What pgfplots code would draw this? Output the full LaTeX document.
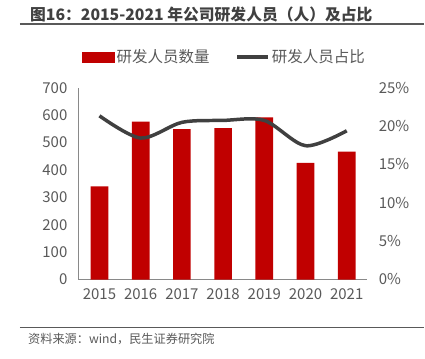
\documentclass[border=0pt]{standalone}
\usepackage{pgfplots}
\pgfplotsset{compat=1.18}
\usepackage{fontspec}
\setmainfont{Noto Sans CJK SC}
\definecolor{barred}{HTML}{C00000}
\definecolor{linegray}{HTML}{404040}
\definecolor{txtgray}{HTML}{595959}
\definecolor{axgray}{HTML}{898989}
\begin{document}
\begin{tikzpicture}
\path (0pt,0pt) rectangle (425pt,359pt);
\draw[txtgray, line width=1.5pt] (20pt,335pt) -- (425pt,335pt);
\draw[txtgray, line width=1.5pt] (20pt,31pt) -- (425pt,31pt);
\node[anchor=west, font=\fontsize{15.8}{18}\selectfont\bfseries, text=linegray, inner sep=0pt] at (30pt,344pt) {图16：2015-2021 年公司研发人员（人）及占比};
\node[anchor=west, font=\fontsize{12.2}{14}\selectfont, text=txtgray, inner sep=0pt] at (28pt,19pt) {资料来源：wind，民生证券研究院};
\begin{axis}[
  at={(79pt,79pt)}, anchor=south west, scale only axis,
  width=289pt, height=192pt,
  xmin=-0.5, xmax=6.5, ymin=0, ymax=700,
  xtick={0,1,2,3,4,5,6},
  xticklabels={2015,2016,2017,2018,2019,2020,2021},
  ytick={0,100,200,300,400,500,600,700},
  axis x line*=bottom, axis y line*=left,
  axis line style={axgray, line width=1pt, -},
  major tick length=0pt,
  tick label style={font=\fontsize{15}{15}\selectfont, text=txtgray},
  yticklabel style={xshift=-8pt},
  xticklabel style={yshift=-6pt},
  /pgf/number format/assume math mode=true,
  legend style={at={(0.505,1.161)}, anchor=center, draw=none, fill=none,
    font=\fontsize{15.5}{15.5}\selectfont, text=txtgray, legend columns=2,
    /tikz/every even column/.append style={column sep=24pt},
    inner sep=0pt},
]
\addplot[ybar, bar width=17.7pt, fill=barred, draw=none, forget plot]
  coordinates {(0,340) (1,577) (2,549) (3,553) (4,592) (5,426) (6,467)};
\addlegendimage{legend image code/.code={\fill[barred] (0pt,-5pt) rectangle (32pt,5pt);}}
\addlegendentry{研发人员数量}
\addlegendimage{legend image code/.code={\draw[linegray, line width=3.5pt] (0pt,0pt) -- (31pt,0pt);}}
\addlegendentry{研发人员占比}
\end{axis}
\begin{axis}[
  at={(79pt,79pt)}, anchor=south west, scale only axis,
  width=289pt, height=192pt,
  xmin=-0.5, xmax=6.5, ymin=0, ymax=25,
  axis x line=none, axis y line*=right,
  axis line style={draw=none},
  ytick={0,5,10,15,20,25},
  yticklabel={\pgfmathprintnumber{\tick}\%},
  major tick length=0pt,
  tick label style={font=\fontsize{15}{15}\selectfont, text=txtgray},
  yticklabel style={xshift=8pt},
  /pgf/number format/assume math mode=true,
]
\addplot[linegray, line width=3.5pt, smooth, tension=0.5]
  coordinates {(0,21.35) (1,18.45) (2,20.5) (3,20.75) (4,20.75) (5,17.45) (6,19.4)};
\end{axis}
\end{tikzpicture}
\end{document}
